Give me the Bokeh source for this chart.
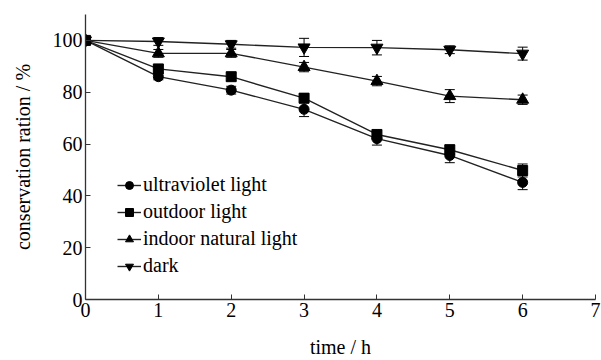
from bokeh.plotting import figure
from bokeh.models import FixedTicker, Whisker, ColumnDataSource, TeeHead, Legend, LegendItem, Range1d
from bokeh.embed import file_html
from bokeh.resources import INLINE

time_h = [0, 1, 2, 3, 4, 5, 6]
ultraviolet = [100, 86, 80.8, 73.4, 62.1, 55.6, 45.2]
ultraviolet_err = [0, 1.2, 1.5, 2.8, 2.5, 2.8, 2.8]
outdoor = [100, 89, 86, 77.7, 63.7, 57.8, 49.8]
outdoor_err = [0, 1.5, 1.5, 1.8, 1.5, 1.8, 2.5]
indoor = [100, 95, 95, 89.7, 84.3, 78.5, 77.1]
indoor_err = [0, 1.5, 1.5, 1.8, 1.8, 2.5, 1.8]
dark = [100, 99.6, 98.5, 97.3, 97.2, 96.4, 94.9]
dark_err = [0, 1.5, 1.5, 3.5, 2.8, 1.5, 2.5]

series = [
    ("ultraviolet light", ultraviolet, ultraviolet_err, "circle", 10),
    ("outdoor light", outdoor, outdoor_err, "square", 10),
    ("indoor natural light", indoor, indoor_err, "triangle", 12),
    ("dark", dark, dark_err, "inverted_triangle", 12),
]

FONT = "Liberation Serif"
FS = "20px"

p = figure(width=601, height=360, output_backend="svg", toolbar_location=None,
           x_range=Range1d(0, 7), y_range=Range1d(0, 110),
           min_border_left=85, min_border_right=6, min_border_top=14, min_border_bottom=61)
p.outline_line_color = None
p.xgrid.visible = False
p.ygrid.visible = False
p.background_fill_color = "white"
p.border_fill_color = "white"

items = []
for name, vals, errs, marker, size in series:
    src = ColumnDataSource(dict(x=time_h, y=vals,
                                lo=[v - e for v, e in zip(vals, errs)],
                                hi=[v + e for v, e in zip(vals, errs)]))
    w = Whisker(source=src, base="x", upper="hi", lower="lo", dimension="height",
                line_color="black", line_width=1,
                upper_head=TeeHead(size=10, line_color="black", line_width=1),
                lower_head=TeeHead(size=10, line_color="black", line_width=1))
    p.add_layout(w)
    l = p.line("x", "y", source=src, line_color="#222222", line_width=1.4)
    s = p.scatter("x", "y", source=src, marker=marker, size=size,
                  fill_color="black", line_color="black")
    items.append(LegendItem(label=name, renderers=[l, s]))

legend = Legend(items=items, location=(32, 22), background_fill_alpha=0,
                border_line_color=None, padding=0, margin=0, spacing=4,
                glyph_width=24, glyph_height=20, label_standoff=2,
                label_text_font=FONT, label_text_font_size=FS,
                label_text_color="black", label_height=20)
p.add_layout(legend)

p.xaxis.ticker = FixedTicker(ticks=[0, 1, 2, 3, 4, 5, 6, 7])
p.yaxis.ticker = FixedTicker(ticks=[0, 20, 40, 60, 80, 100])
for ax in (p.xaxis[0], p.yaxis[0]):
    ax.major_tick_in = 5
    ax.major_tick_out = 0
    ax.minor_tick_in = 0
    ax.minor_tick_out = 0
    ax.axis_line_color = "#333333"
    ax.axis_line_width = 1.3
    ax.major_tick_line_color = "#333333"
    ax.major_label_text_font = FONT
    ax.major_label_text_font_size = FS
    ax.major_label_text_color = "black"
    ax.axis_label_text_font = FONT
    ax.axis_label_text_font_size = FS
    ax.axis_label_text_font_style = "normal"
    ax.axis_label_text_color = "black"
    ax.major_label_standoff = 3

p.xaxis.axis_label = "time / h"
p.yaxis.axis_label = "conservation ration / %"
p.xaxis.axis_label_standoff = 16
p.yaxis.axis_label_standoff = 16

open("out.html", "w").write(file_html(p, INLINE))
